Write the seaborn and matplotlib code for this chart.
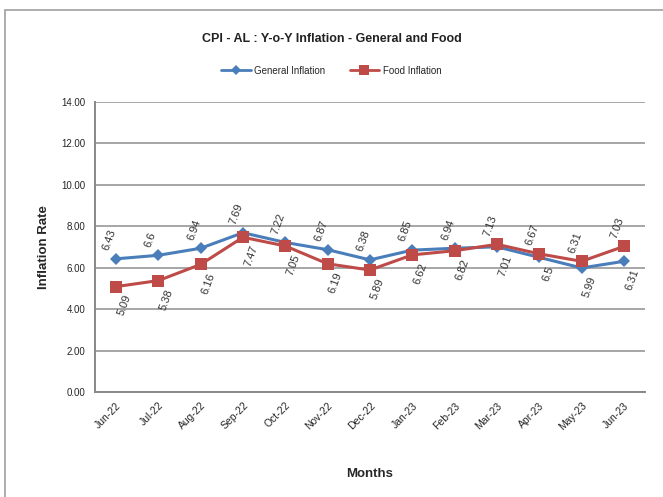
import pandas as pd
import seaborn as sns
import matplotlib.pyplot as plt
from matplotlib.patches import Rectangle

# chart values
months = ["Jun-22", "Jul-22", "Aug-22", "Sep-22", "Oct-22", "Nov-22", "Dec-22",
          "Jan-23", "Feb-23", "Mar-23", "Apr-23", "May-23", "Jun-23"]
general = [6.43, 6.6, 6.94, 7.69, 7.22, 6.87, 6.38, 6.85, 6.94, 7.01, 6.5, 5.99, 6.31]
food = [5.09, 5.38, 6.16, 7.47, 7.05, 6.19, 5.89, 6.62, 6.82, 7.13, 6.67, 6.31, 7.03]
yticks = [0, 2, 4, 6, 8, 10, 12, 14]

df = pd.DataFrame({
    "Months": months * 2,
    "Rate": general + food,
    "Series": ["General Inflation"] * len(months) + ["Food Inflation"] * len(months),
})

sns.set_style("white")
plt.rcParams["font.family"] = ["Liberation Sans Narrow", "Liberation Sans", "DejaVu Sans"]

blue = "#4A7EBB"
red = "#BE4B48"

fig = plt.figure(figsize=(6.63, 4.97), dpi=100)
fig.patches.append(Rectangle((0.008, -0.01), 1.0, 0.99, transform=fig.transFigure,
                             fill=False, edgecolor="#a0a0a0", linewidth=1.2))

ax = fig.add_axes([0.143, 0.211, 0.83, 0.584])
sns.lineplot(data=df, x="Months", y="Rate", hue="Series", style="Series",
             palette={"General Inflation": blue, "Food Inflation": red},
             markers={"General Inflation": "D", "Food Inflation": "s"},
             dashes=False, sort=False, linewidth=2.2, ax=ax, legend=False,
             markeredgewidth=0)
for line, ms in zip(ax.lines, [6, 9]):
    line.set_markersize(ms)

n = len(months)
ax.set_xlim(-0.5, n - 0.5)
ax.set_ylim(0, 14)
ax.set_yticks(yticks)
ax.set_yticklabels([f"{v:.2f}" for v in yticks], fontsize=7)
ax.set_xticks(range(n))
ax.set_xticklabels(months, rotation=45, ha="right", rotation_mode="anchor", fontsize=7.5)
ax.tick_params(axis="x", length=0, pad=6)
ax.tick_params(axis="y", length=5, color="#888888", pad=2)
# category boundary ticks crossing the x axis
ax.set_xticks([i - 0.5 for i in range(n + 1)], minor=True)
ax.tick_params(axis="x", which="minor", length=8, direction="inout", color="#888888", width=1.2)
ax.grid(axis="y", color="#a6a6a6", linewidth=1.4)
ax.set_axisbelow(True)
for s in ["top", "right"]:
    ax.spines[s].set_visible(False)
for s in ["left", "bottom"]:
    ax.spines[s].set_color("#888888")
    ax.spines[s].set_linewidth(1.4)

# data labels: higher value above the point, lower below
for i in range(n):
    g, f = general[i], food[i]
    for v, hi in [(g, g >= f), (f, f > g)]:
        if hi:
            ax.annotate(f"{v:g}", (i, v), xytext=(-4, 5), textcoords="offset points",
                        rotation=70, ha="left", va="bottom", fontsize=8,
                        color="#333333", rotation_mode="anchor")
        else:
            ax.annotate(f"{v:g}", (i, v), xytext=(5, -5), textcoords="offset points",
                        rotation=70, ha="right", va="top", fontsize=8,
                        color="#333333", rotation_mode="anchor")

ax.set_xlabel("Months", fontsize=9.5, fontweight="bold", labelpad=26)
ax.set_ylabel("Inflation Rate", fontsize=9.5, fontweight="bold", labelpad=8)

fig.text(0.5, 0.922, "CPI - AL : Y-o-Y Inflation - General and Food", ha="center",
         va="center", fontsize=9, fontweight="bold", color="#222222")

# legend
handles = [plt.Line2D([], [], color=blue, marker="D", markersize=5, linewidth=2, markeredgewidth=0),
           plt.Line2D([], [], color=red, marker="s", markersize=7, linewidth=2, markeredgewidth=0)]
fig.legend(handles, ["General Inflation", "Food Inflation"], loc="center",
           bbox_to_anchor=(0.5, 0.858), ncol=2, frameon=False, fontsize=7,
           handlelength=3, columnspacing=2.5, handletextpad=0.4)

fig.savefig("out.png", dpi=100)
